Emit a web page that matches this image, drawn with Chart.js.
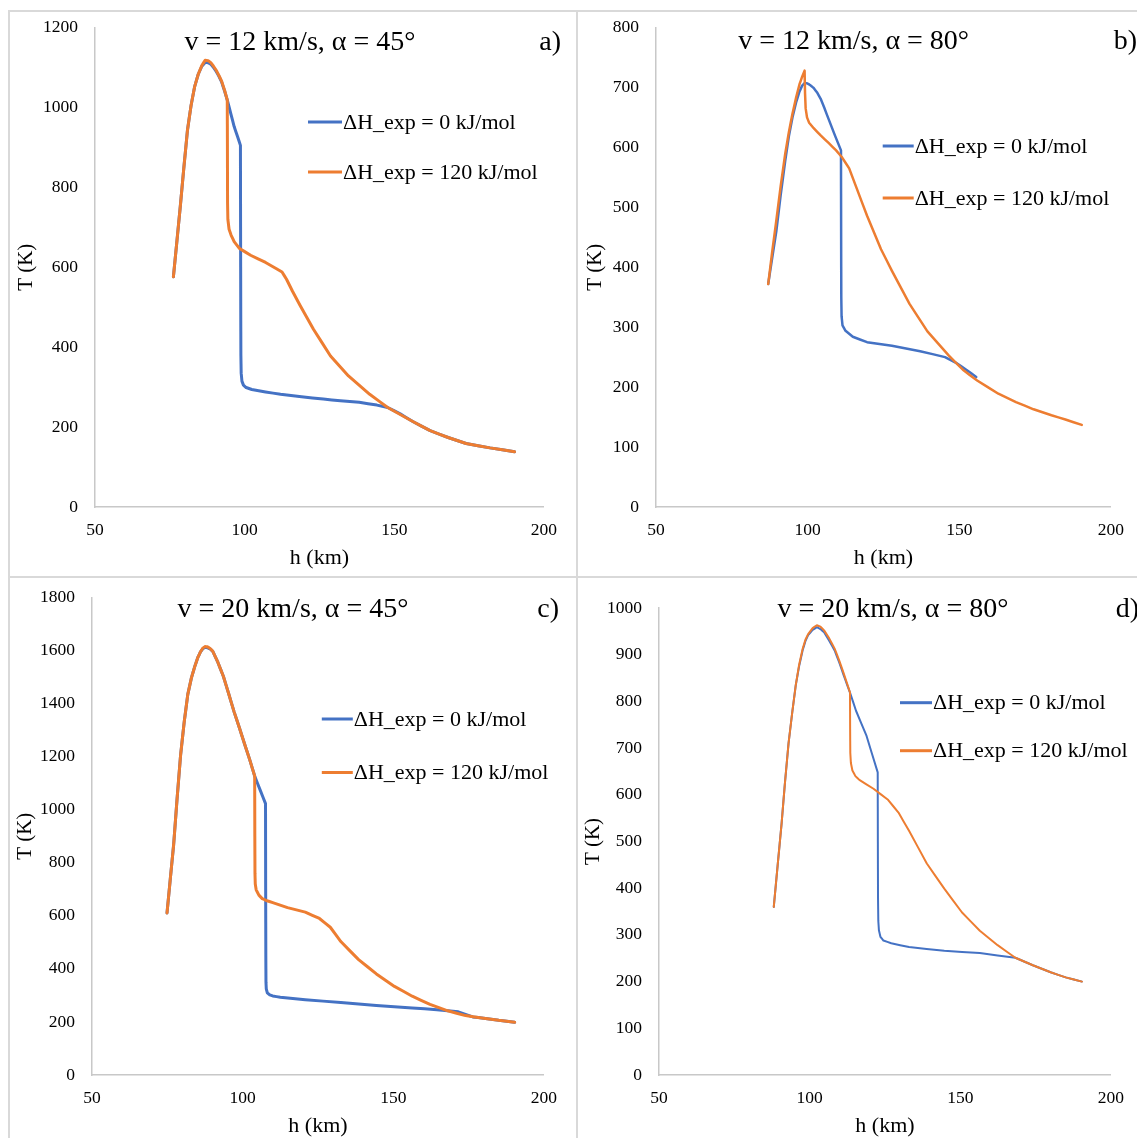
<!DOCTYPE html>
<html>
<head>
<meta charset="utf-8">
<script src="https://cdn.jsdelivr.net/npm/chart.js@4.4.1/dist/chart.umd.min.js"></script>
<style>
html,body{margin:0;padding:0;background:#fff;}
body{width:1137px;height:1138px;position:relative;overflow:hidden;font-family:"Liberation Serif",serif;}
.pane{position:absolute;}
.pane canvas{display:block;}
.rule{position:absolute;background:#d9d9d9;pointer-events:none;}
</style>
</head>
<body>
<div class="pane" style="left:0;top:0"><canvas id="ca" width="570" height="570"></canvas></div>
<div class="pane" style="left:570px;top:0"><canvas id="cb" width="567" height="570"></canvas></div>
<div class="pane" style="left:0;top:570px"><canvas id="cc" width="570" height="568"></canvas></div>
<div class="pane" style="left:570px;top:570px"><canvas id="cd" width="567" height="568"></canvas></div>
<div class="rule" style="left:8px;top:10px;width:1.5px;height:1128px"></div>
<div class="rule" style="left:576px;top:10px;width:1.5px;height:1128px"></div>
<div class="rule" style="left:8px;top:10px;width:1129px;height:1.5px"></div>
<div class="rule" style="left:8px;top:576px;width:1129px;height:1.5px"></div>
<script>
// ---- data ----
const LABELS = ['\u0394H_exp = 0 kJ/mol', '\u0394H_exp = 120 kJ/mol'];
const TITLES = ['v = 12 km/s, \u03b1 = 45\u00b0', 'v = 12 km/s, \u03b1 = 80\u00b0', 'v = 20 km/s, \u03b1 = 45\u00b0', 'v = 20 km/s, \u03b1 = 80\u00b0'];
const LETTERS = ['a)', 'b)', 'c)', 'd)'];
const X_TITLE = 'h (km)';
const Y_TITLE = 'T (K)';
const X_RANGE = [50, 200, 50];
const Y_MAX = [1200, 800, 1800, 1000];
const Y_STEP = [200, 100, 200, 100];

// panel a: v=12, alpha=45
const H_A0 = [76.2,77.3,78.5,79.7,80.9,82.1,83.3,84.5,85.7,86.9,87.8,88.7,89.6,90.5,91.4,92.3,93.3,94.3,95.4,96.5,97.6,98.6,98.65,98.7,98.75,98.85,99.1,99.6,100.5,102.4,107,112,119,126.3,132,138.3,144.2,147.8,152,156.2,162,168,174,182,190.2];
const T_A0 = [576,660,752,850,943,1005,1052,1083,1103,1113,1112,1108,1100,1090,1078,1064,1041,1016,984,952,928,905,700,500,380,335,315,305,299,294,288,282,276,270,266,262,255,249,233,214,191,174,159,148,138.5];
const H_A1 = [76.2,77.3,78.5,79.7,80.9,82.1,83.3,84.5,85.7,86.8,87.8,88.7,89.6,90.5,91.4,92.3,93.3,94.2,94.25,94.3,94.4,94.8,95.5,96.5,98.3,102,107,110.5,112.5,114,116,118.5,123,128.7,134.7,141.8,147.8,156.2,162,168,174,182,190.2];
const T_A1 = [576,660,752,850,943,1005,1052,1083,1105,1118,1117,1112,1103,1093,1080,1066,1043,1018,900,760,720,695,680,664,647,630,612,597,588,570,540,505,445,378,328,282,249,214,191,174,159,148,138.5];

// panel b: v=12, alpha=80
const H_B0 = [87,88.3,89.7,91.1,92.6,93.8,95,96.2,97.3,98.2,99,99.8,100.5,101.3,102,103.2,104.3,105.5,106.7,109,111,111.05,111.1,111.2,111.5,112.5,114.9,119.6,127.8,137.1,145.3,148.8,152.3,155.6];
const T_B0 = [372,415,461,520,577,618,650,675,693,703,707,707,705,702,699,691,681,666,650,620,595,450,350,318,303,294,284,275,269,260,250,241,229,217];
const H_B1 = [87,88.3,89.7,91.1,92.6,93.8,95,96.2,97.3,98.2,99,99.15,99.35,99.8,100.5,102,104.3,107,109.4,111.4,113.7,116,119.6,124.2,127.8,133.6,139.5,146.5,151.2,155.9,162.9,168.7,174.5,180.4,185,190.4];
const T_B1 = [372,425,479,535,589,625,656,683,705,718,728,690,665,650,641,632,620,607,595,583,565,534,486,430,394,339,293,253,229,211,189,175,163,153,146,137];

// panel c: v=20, alpha=45
const H_C0 = [74.9,76,77.1,78.2,79.4,80.6,81.8,83,84.2,85.1,86,86.8,87.5,88.3,89.2,90.1,91.8,93.6,95.4,97.2,99,100.7,102.4,104,105.8,107.6,107.65,107.7,107.75,107.85,108.2,109,110,112.5,120.8,132.6,144.4,156.3,164.5,171.6,176.4,180,185,190.3];
const T_C0 = [611,740,868,1035,1205,1330,1435,1497,1543,1573,1595,1607,1612,1611,1606,1597,1555,1503,1436,1368,1306,1246,1187,1127,1075,1023,700,450,350,325,310,302,298,293,284,273,262,253,246,238,219,214,206,199];
const H_C1 = [74.9,76,77.1,78.2,79.4,80.6,81.8,83,84.2,85.1,86,86.8,87.5,88.3,89.2,90.1,91.8,93.6,95.4,97.2,99,100.7,102.4,104,104.05,104.1,104.2,104.5,105.4,106.5,107.8,110,114.9,120.8,125.5,129.1,132.6,138.5,144.4,150.4,156.3,162.2,168.1,174,180,185,190.3];
const T_C1 = [611,740,868,1035,1205,1330,1435,1497,1543,1573,1595,1609,1615,1614,1608,1597,1555,1503,1436,1368,1306,1246,1187,1127,900,760,720,698,678,665,658,650,631,614,590,557,503,435,381,334,297,266,242,224,214,206,199];

// panel d: v=20, alpha=80
const H_D0 = [88.1,89.4,90.7,91.8,93,94.2,95.4,96.5,97.7,98.6,99.5,101,102.4,103.6,104.8,106.5,108.3,109.8,111.2,112.3,113.4,115.4,118.9,122.6,122.65,122.7,122.8,123,123.5,124.5,127.1,133,144.7,156.5,168.3,174.1,180,185,190.4];
const T_D0 = [360,450,539,625,710,775,835,875,910,929,942,953,959,955,948,930,909,884,858,838,819,780,726,648,500,380,330,310,296,288,282,274,266,261,251,235,220,209,200];
const H_D1 = [88.1,89.4,90.7,91.8,93,94.2,95.4,96.5,97.7,98.6,99.5,101,102.4,103.6,104.8,106.5,108.3,109.8,111.2,112.3,113.4,113.45,113.5,113.7,114.2,115.2,116.5,121.2,125.9,129.5,133,138.9,144.7,150.6,156.5,162.4,168.3,174.1,180,185,190.4];
const T_D1 = [360,450,539,625,710,775,835,878,913,932,944,957,963,960,952,935,913,888,862,841,819,740,690,668,652,640,632,613,590,562,523,453,399,348,309,278,251,235,220,209,200];

// ---- styling ----
const BLUE = '#4472C4';
const ORANGE = '#ED7D31';
const FONT = '"Liberation Serif", "Times New Roman", serif';

function pts(h, t) { return h.map((v, i) => ({x: v, y: t[i]})); }

const panelPlugin = {
  id: 'panelText',
  afterDraw(chart, args, o) {
    const ctx = chart.ctx;
    ctx.save();
    ctx.fillStyle = '#000';
    ctx.font = o.titleSize + 'px ' + FONT;
    ctx.textBaseline = 'alphabetic';
    ctx.textAlign = 'center';
    ctx.fillText(o.title, o.titleX, o.titleY);
    ctx.textAlign = 'right';
    ctx.fillText(o.letter, o.letterX, o.titleY);
    ctx.font = o.legSize + 'px ' + FONT;
    ctx.textAlign = 'left';
    ctx.textBaseline = 'middle';
    chart.data.datasets.forEach((d, i) => {
      const y = o.legY + i * o.legGap;
      ctx.strokeStyle = d.borderColor;
      ctx.lineWidth = 3;
      ctx.lineCap = 'butt';
      ctx.beginPath();
      ctx.moveTo(o.legX, y);
      ctx.lineTo(o.legX + o.legLen, y);
      ctx.stroke();
      ctx.fillText(d.label, o.legX + o.legLen + 1, y + 1);
    });
    ctx.restore();
  }
};

function makeChart(id, k, h0, t0, h1, t1, c) {
  const common = {showLine: true, pointRadius: 0, tension: 0.0001, fill: false, borderWidth: c.lw, borderJoinStyle: 'round', borderCapStyle: 'round'};
  new Chart(document.getElementById(id), {
    type: 'scatter',
    data: {
      datasets: [
        Object.assign({label: LABELS[0], data: pts(h0, t0), borderColor: BLUE, backgroundColor: BLUE, order: 1}, common),
        Object.assign({label: LABELS[1], data: pts(h1, t1), borderColor: ORANGE, backgroundColor: ORANGE, order: 0}, common)
      ]
    },
    options: {
      responsive: false,
      animation: false,
      events: [],
      layout: {padding: {left: c.padL, top: c.top, right: c.padR, bottom: 0}},
      plugins: {
        legend: {display: false},
        title: {display: false},
        tooltip: {enabled: false},
        panelText: {
          title: TITLES[k], letter: LETTERS[k], titleSize: 28, titleX: c.titleX, titleY: c.titleY, letterX: c.letterX,
          legSize: 22, legX: c.legX, legLen: c.legLen, legY: c.legY, legGap: c.legGap
        }
      },
      scales: {
        x: {
          type: 'linear', min: X_RANGE[0], max: X_RANGE[1],
          ticks: {stepSize: X_RANGE[2], padding: 13, color: '#000', font: {family: FONT, size: 17.5}, maxRotation: 0, autoSkip: false,
                  callback: v => String(v)},
          grid: {display: false, drawTicks: false},
          border: {display: true, color: '#c8c8c8', width: 1.5},
          title: {display: true, text: X_TITLE, color: '#000', font: {family: FONT, size: 22, lineHeight: 1.09}, padding: 0},
          afterFit: s => { s.height = c.xH; }
        },
        y: {
          type: 'linear', min: 0, max: Y_MAX[k],
          ticks: {stepSize: Y_STEP[k], padding: 17, color: '#000', font: {family: FONT, size: 17.5},
                  callback: v => String(v)},
          grid: {display: false, drawTicks: false},
          border: {display: true, color: '#c8c8c8', width: 1.5},
          title: {display: true, text: Y_TITLE, color: '#000', font: {family: FONT, size: 21, lineHeight: 1.14}, padding: 0},
          afterFit: s => { s.width = c.yW; }
        }
      }
    },
    plugins: [panelPlugin]
  });
}

makeChart('ca', 0, H_A0, T_A0, H_A1, T_A1, {lw: 3, padL: 15, top: 24, padR: 19, yW: 80, xH: 63,
  titleX: 300, titleY: 50, letterX: 561, legX: 308, legLen: 34, legY: 122, legGap: 50});
makeChart('cb', 1, H_B0, T_B0, H_B1, T_B1, {lw: 2.5, padL: 13.5, top: 27, padR: 16, yW: 72.5, xH: 63,
  titleX: 283.6, titleY: 49, letterX: 567, legX: 312.7, legLen: 31, legY: 146, legGap: 52});
makeChart('cc', 2, H_C0, T_C0, H_C1, T_C1, {lw: 3, padL: 13.5, top: 21, padR: 17, yW: 78.5, xH: 63,
  titleX: 293, titleY: 47, letterX: 559, legX: 321.8, legLen: 31, legY: 149, legGap: 53.5});
makeChart('cd', 3, H_D0, T_D0, H_D1, T_D1, {lw: 2, padL: 11.6, top: 38, padR: 15, yW: 77.4, xH: 63,
  titleX: 323, titleY: 47, letterX: 569, legX: 330, legLen: 32, legY: 132.7, legGap: 48});
</script>
</body>
</html>
